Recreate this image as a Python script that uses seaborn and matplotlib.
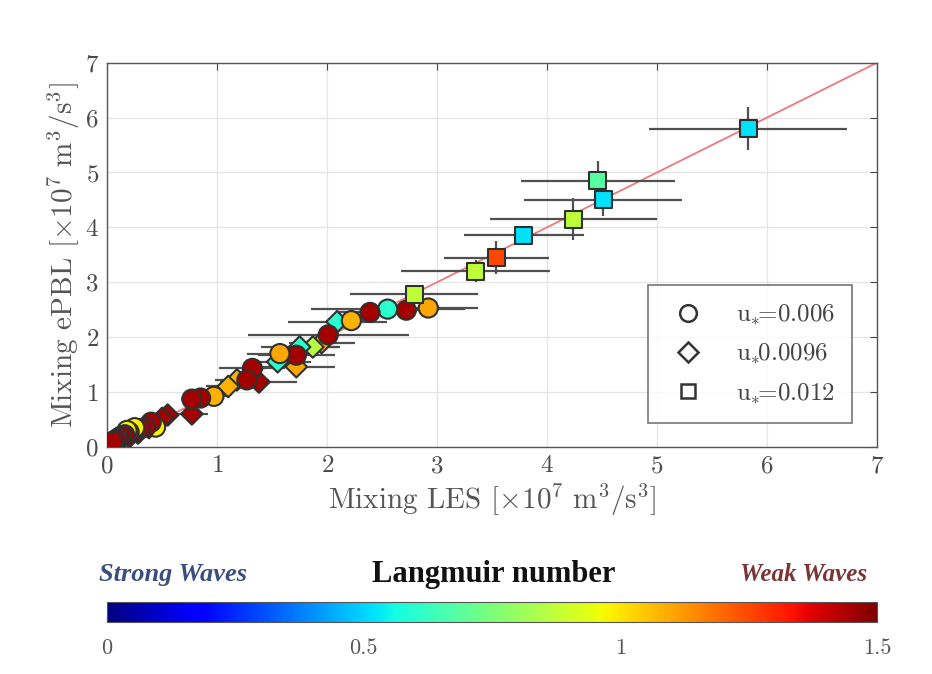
import numpy as np
import pandas as pd
import matplotlib
matplotlib.use("Agg")
import matplotlib.pyplot as plt
from matplotlib.lines import Line2D
import seaborn as sns

# Mixing LES (x), Mixing ePBL (y), Langmuir number, u* group, errors
mix_les = [5.83, 4.46, 4.51, 4.24, 3.79, 3.54, 3.35, 2.79,
           2.92, 2.72, 2.55, 2.39, 2.22, 2.01, 1.72, 1.57, 1.32, 1.27, 0.97, 0.85, 0.77,
           0.44, 0.40, 0.35, 0.30, 0.25, 0.25, 0.20, 0.18, 0.16, 0.13, 0.10, 0.08, 0.05,
           2.09, 1.95, 1.87, 1.75, 1.72, 1.55, 1.38, 1.18, 1.10, 0.77, 0.55, 0.50,
           0.38, 0.28, 0.20, 0.12, 0.07]
mix_epbl = [5.80, 4.85, 4.50, 4.15, 3.86, 3.45, 3.20, 2.78,
            2.53, 2.49, 2.51, 2.45, 2.30, 2.04, 1.67, 1.70, 1.43, 1.22, 0.92, 0.89, 0.87,
            0.36, 0.45, 0.36, 0.33, 0.30, 0.35, 0.27, 0.30, 0.22, 0.20, 0.16, 0.13, 0.10,
            2.28, 1.90, 1.82, 1.82, 1.46, 1.55, 1.18, 1.22, 1.10, 0.60, 0.58, 0.52,
            0.35, 0.25, 0.18, 0.12, 0.08]
langmuir = [0.52, 0.68, 0.52, 0.87, 0.52, 1.25, 0.87, 0.87,
            1.10, 1.45, 0.60, 1.45, 1.08, 1.45, 1.45, 1.10, 1.45, 1.45, 1.08, 1.45, 1.45,
            0.98, 1.45, 1.45, 1.45, 1.45, 0.98, 1.40, 0.98, 1.45, 1.45, 1.40, 1.45, 1.45,
            0.60, 1.10, 0.85, 0.60, 1.10, 0.60, 1.45, 1.08, 1.08, 1.45, 1.45, 1.45,
            1.45, 1.45, 1.45, 1.40, 1.45]
ustar = (["u*=0.012"] * 8 + ["u*=0.006"] * 26 + ["u*0.0096"] * 17)
err_les = [0.90, 0.70, 0.72, 0.76, 0.55, 0.48, 0.68, 0.58,
           0.45, 0.20, 0.70, 0.30, 0.20, 0.73, 0.35, 0.30, 0.30, 0.20, 0.15, 0.10, 0.10,
           0.05, 0.05, 0.05, 0.05, 0.05, 0.05, 0.05, 0.05, 0.05, 0.05, 0.05, 0.05, 0.05,
           0.45, 0.30, 0.25, 0.35, 0.35, 0.30, 0.35, 0.20, 0.20, 0.15, 0.10, 0.05,
           0.05, 0.05, 0.05, 0.05, 0.05]
err_epbl = [0.39, 0.35, 0.30, 0.38, 0.15, 0.30, 0.20, 0.12] + [0.04] * 43

df = pd.DataFrame({"les": mix_les, "epbl": mix_epbl, "La": langmuir,
                   "ustar": ustar, "xerr": err_les, "yerr": err_epbl})

sns.set_style("white")
plt.rcParams['font.family'] = ['cmr10', 'DejaVu Serif']
plt.rcParams['mathtext.fontset'] = 'cm'
plt.rcParams['axes.formatter.use_mathtext'] = True

jet = matplotlib.colormaps["jet"]

fig = plt.figure(figsize=(9.32, 6.74), dpi=100)
ax = fig.add_axes([0.115, 0.337, 0.826, 0.570])

ax.plot([0, 7], [0, 7], color="#f07878", lw=1.3, zorder=1)
ax.errorbar(df.les, df.epbl, xerr=df.xerr, yerr=df.yerr, fmt="none",
            ecolor="#505050", elinewidth=1.6, capsize=0, zorder=2)

shapes = {"u*=0.006": "o", "u*0.0096": "D", "u*=0.012": "s"}
sizes = {"u*=0.006": 190, "u*0.0096": 120, "u*=0.012": 150}
for key, sub in df.groupby("ustar"):
    sns.scatterplot(data=sub, x="les", y="epbl", hue="La", palette=jet,
                    hue_norm=(0, 1.5), marker=shapes[key], s=sizes[key],
                    edgecolor="#303030", linewidth=1.5, legend=False, ax=ax, zorder=3)

ax.set_xlim(0, 7)
ax.set_ylim(0, 7)
ax.set_xticks(range(8))
ax.set_yticks(range(8))
ax.grid(True, color="#e4e4e4", lw=0.9)
ax.tick_params(direction="in", top=True, right=True, labelsize=18,
               colors="#444444", labelcolor="#4a4a4a", length=5, pad=6)
for sp in ax.spines.values():
    sp.set_color("#555555")
    sp.set_linewidth(1.0)
ax.set_xlabel(r"Mixing LES $[\times 10^7\ \mathrm{m}^3/\mathrm{s}^3]$", fontsize=21,
              color="#555555", labelpad=3)
ax.set_ylabel(r"Mixing ePBL $[\times 10^7\ \mathrm{m}^3/\mathrm{s}^3]$", fontsize=21,
              color="#555555", labelpad=2)

handles = [Line2D([], [], ls="none", marker="o", mfc="none", mec="#333333", mew=1.8, ms=12),
           Line2D([], [], ls="none", marker="D", mfc="none", mec="#333333", mew=1.8, ms=10),
           Line2D([], [], ls="none", marker="s", mfc="none", mec="#333333", mew=1.8, ms=10)]
labels = [r"u$_{*}\!$=0.006", r"u$_{*}\!$0.0096", r"u$_{*}\!$=0.012"]
leg = ax.legend(handles, labels, loc="lower right", bbox_to_anchor=(0.968, 0.062),
                fontsize=18, frameon=True, fancybox=False, edgecolor="#555555",
                borderpad=0.7, labelspacing=0.6, handlelength=1.8, handletextpad=1.0,
                borderaxespad=0)
leg.get_frame().set_linewidth(1.2)
for t in leg.get_texts():
    t.set_color("#444444")

# colorbar
cax = fig.add_axes([0.115, 0.077, 0.826, 0.030])
sm = plt.cm.ScalarMappable(cmap=jet, norm=plt.Normalize(0, 1.5))
cb = fig.colorbar(sm, cax=cax, orientation="horizontal")
cb.set_ticks([0, 0.5, 1, 1.5])
cb.set_ticklabels(["0", "0.5", "1", "1.5"])
cax.tick_params(direction="in", length=4, labelsize=16, colors="#333333",
                labelcolor="#555555", pad=12)
cb.outline.set_edgecolor("#555555")

fig.text(0.106, 0.148, "Strong Waves", fontsize=19, fontweight="bold",
         style="italic", color="#3a4f80", ha="left", va="center",
         family=["Liberation Serif", "DejaVu Serif"])
fig.text(0.530, 0.148, "Langmuir number", fontsize=22, fontweight="bold",
         color="#111111", ha="center", va="center",
         family=["Liberation Serif", "DejaVu Serif"])
fig.text(0.930, 0.148, "Weak Waves", fontsize=18, fontweight="bold",
         style="italic", color="#7a3535", ha="right", va="center",
         family=["Liberation Serif", "DejaVu Serif"])

fig.savefig("out.png", dpi=100, facecolor="white")
